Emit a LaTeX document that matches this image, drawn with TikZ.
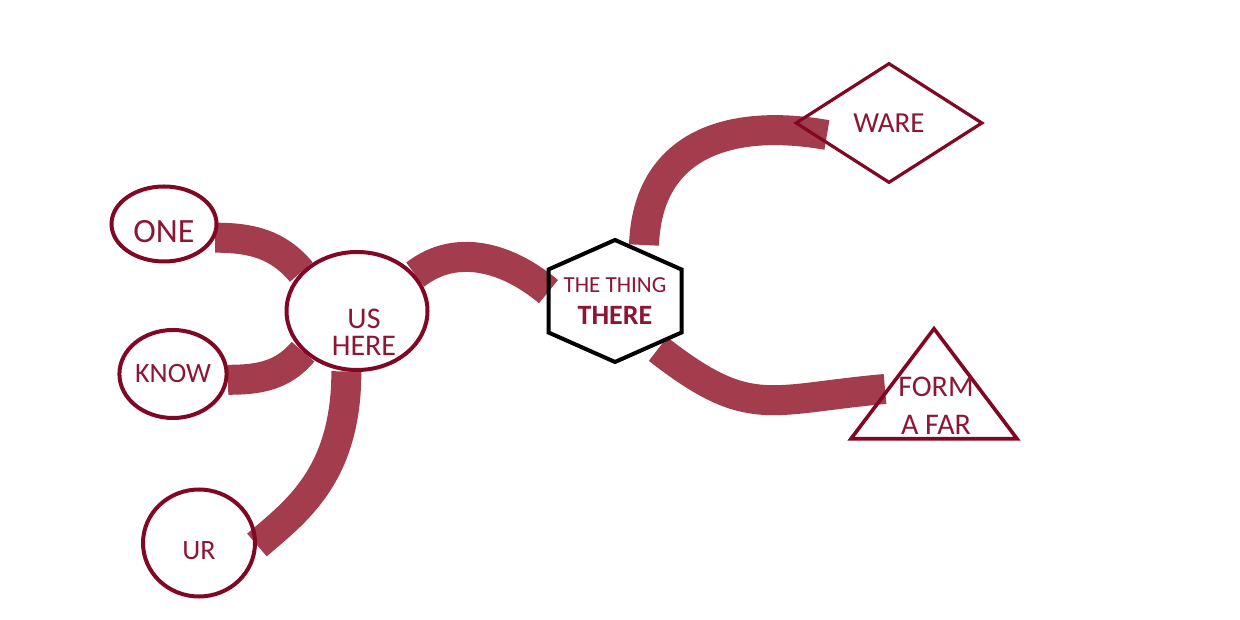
\documentclass[tikz,border=0pt]{standalone}
\usepackage{fontspec}
\setmainfont{Carlito}
\usetikzlibrary{shapes.geometric, calc, backgrounds}

\definecolor{mapline}{RGB}{128,8,36}
\definecolor{maptext}{RGB}{140,22,52}
\definecolor{ribbon}{RGB}{163,60,76}

\begin{document}
\begin{tikzpicture}[
    x=0.5pt, y=0.5pt,
    bubble/.style={draw=mapline, line width=2pt, ellipse, inner sep=0pt, text=maptext, font=\fontsize{14}{16}\selectfont},
    hexbox/.style={rectangle, minimum width=66.5pt, minimum height=61pt, inner sep=0pt, outer sep=0pt, align=center, text=maptext},
    choice/.style={draw=mapline, line width=1.6pt, diamond, minimum width=93.5pt, minimum height=60pt, inner sep=0pt, text=maptext, font=\fontsize{14.5}{16}\selectfont},
    tri/.style={draw=mapline, line width=1.8pt, isosceles triangle, shape border rotate=90, isosceles triangle stretches, inner sep=0pt},
    lbl/.style={text=maptext, align=center, inner sep=0pt},
    link/.style={draw=ribbon, line width=15pt}
]
\useasboundingbox (0,0) rectangle (1240,620);

    % Nodes
    \node[bubble, minimum width=52.5pt, minimum height=37.5pt, font=\fontsize{17}{19}\selectfont, text height=19pt, text depth=0pt] (one) at (164,396) {ONE};
    \node[bubble, minimum width=52.5pt, minimum height=44pt] (know) at (173,246) {KNOW};
    \node[bubble, minimum width=70.5pt, minimum height=59pt] (us) at (357,309) {};
    \node[lbl, font=\fontsize{15}{13.5}\selectfont] (ustext) at (364,288) {US\\HERE};
    \node[bubble, minimum width=56pt, minimum height=53.5pt, text height=17pt, text depth=0pt] (ur) at (199,77) {UR};

    \node[hexbox] (thing) at (615,319) {{\fontsize{11.5}{13}\selectfont THE THING}\\[4pt]{\fontsize{14}{16}\selectfont\bfseries THERE}};
    \draw[black, line width=2pt] (thing.north) -- ($(thing.north east)+(0,-29.5)$) -- ($(thing.south east)+(0,29.5)$)
        -- (thing.south) -- ($(thing.south west)+(0,29.5)$) -- ($(thing.north west)+(0,-29.5)$) -- cycle;

    \node[choice] (ware) at (889,497) {WARE};
    \node[tri, minimum width=83pt, minimum height=55pt, anchor=apex] (form) at (934,296) {};
    \node[lbl, font=\fontsize{15}{19}\selectfont] (formtext) at (936,214) {FORM\\A FAR};

    % Connections
    \begin{scope}[on background layer]
    \draw[link] (one.-15) to[out=0, in=130] (us.145);
    \draw[link] (know.-6) to[out=0, in=-130] (us.217);
    \draw[link] (us.-100) .. controls +(0,-105) and +(38,33) .. (ur.-2);
    \draw[link] (us.32) to[out=38, in=140] (thing.172);
    \draw[link] ($(thing.center)+(29,56)$) to[out=88, in=170, looseness=1.2] ($(ware.west)+(33,-12)$);
    \draw[link] ($(thing.center)+(43,-48)$) to[out=-38, in=185, looseness=1.3] ($(form.apex)+(-49,-65)$);
    \end{scope}

\end{tikzpicture}
\end{document}
